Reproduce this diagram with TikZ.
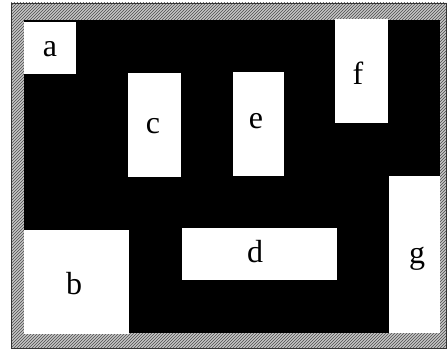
\documentclass[tikz,border=0pt]{standalone}
\usepackage{fontspec}
\setmainfont{Liberation Serif}
\usetikzlibrary{patterns}
\begin{document}
\begin{tikzpicture}[x=1pt, y=-1pt,
    room/.style={fill=white},
    lbl/.style={font=\fontsize{32}{32}\selectfont, inner sep=0pt, anchor=base}]
  \useasboundingbox (0,0) rectangle (447,350);

  % Cadre hachure
  \fill[gray!45] (11,3) rectangle (446,348);
  \fill[pattern=north east lines, pattern color=black!70] (11,3) rectangle (446,348);
  \draw[black!80, line width=0.8pt] (11,3) rectangle (446,348);
  \fill[black] (24,20) rectangle (440,333);

  % Pieces blanches
  \fill[room] (24,22) rectangle (76,74);
  \fill[room] (24,230) rectangle (129,334);
  \fill[room] (128,73) rectangle (181,177);
  \fill[room] (182,228) rectangle (337,280);
  \fill[room] (233,72) rectangle (284,176);
  \fill[room] (335,19) rectangle (388,123);
  \fill[room] (389,176) rectangle (440,333);

  % Etiquettes
  \node[lbl] (a) at (50,57) {a};
  \node[lbl] (b) at (74,294) {b};
  \node[lbl] (c) at (153,134) {c};
  \node[lbl] (d) at (255,262) {d};
  \node[lbl] (e) at (256,129) {e};
  \node[lbl] (f) at (358,85) {f};
  \node[lbl] (g) at (417,263) {g};
\end{tikzpicture}
\end{document}
